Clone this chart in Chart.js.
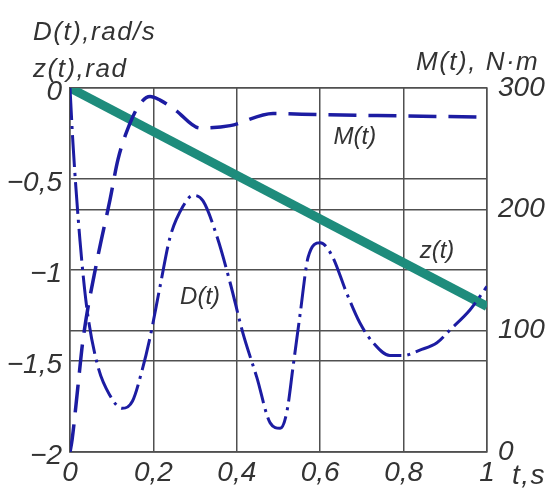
<!DOCTYPE html>
<html>
<head>
<meta charset="utf-8">
<script src="https://cdn.jsdelivr.net/npm/chart.js@4.4.1/dist/chart.umd.min.js"></script>
<style>
  html, body { margin: 0; padding: 0; background: #fff; }
</style>
</head>
<body>
<canvas id="myChart" width="555" height="493"></canvas>
<script>
// D(t), rad/s  (left axis)
const tD = [0, 0.007, 0.024, 0.041, 0.067, 0.096, 0.125, 0.150, 0.173, 0.192, 0.216, 0.240, 0.271, 0.295, 0.319,
  0.353, 0.384, 0.415, 0.448, 0.480, 0.504, 0.520, 0.535, 0.552, 0.571, 0.600, 0.628, 0.664, 0.695, 0.727,
  0.767, 0.799, 0.839, 0.880, 0.911, 0.959, 1.0];
const dVals = [0, -0.30, -0.84, -1.22, -1.53, -1.69, -1.76, -1.72, -1.55, -1.37, -1.09, -0.82, -0.65, -0.59, -0.62,
  -0.82, -1.07, -1.35, -1.59, -1.84, -1.87, -1.78, -1.53, -1.24, -0.93, -0.85, -0.92, -1.13, -1.29, -1.40,
  -1.47, -1.47, -1.44, -1.40, -1.33, -1.22, -1.09];

// M(t), N·m  (right axis)
const tM = [0, 0.005, 0.019, 0.031, 0.065, 0.096, 0.115, 0.144, 0.168, 0.192, 0.216, 0.252, 0.312, 0.384, 0.487, 0.6, 0.8, 1.0];
const mVals = [0, 10, 54, 92, 158, 208, 241, 271, 287, 293, 290, 282, 267, 269, 279, 278, 277, 276];

// z(t), rad  (left axis)
const tZ = [0, 1];
const zVals = [0, -1.2];

const tTicks = [0, 0.2, 0.4, 0.6, 0.8, 1];
const leftTicks = [0, -0.5, -1, -1.5, -2];
const rightTicks = [0, 100, 200, 300];

const BLUE = "#1c1ca2";
const TEAL = "#1e8c7c";
const GRID = "#505050";
const TXT = "#333";
const FONT = '"Liberation Sans", Arial, sans-serif';

const fmt = (v) => {
  const r = Math.round(v * 10) / 10;
  return String(r).replace(".", ",").replace("-", "\u2212");
};
const pts = (xs, ys) => xs.map((x, i) => ({ x: x, y: ys[i] }));

const textPlugin = {
  id: "texts",
  afterDraw(chart) {
    const c = chart.ctx;
    const { x, y, y2 } = chart.scales;
    c.save();
    c.fillStyle = TXT;
    c.letterSpacing = "1.5px";
    c.textBaseline = "alphabetic";
    c.textAlign = "left";
    c.font = "italic 26px " + FONT;
    c.fillText("D(t),rad/s", 33, 40);
    c.fillText("z(t),rad", 33, 77);
    c.fillText("M(t), N\u00b7m", 416, 70);
    c.font = "italic 28px " + FONT;
    c.fillText("t,s", 512, 484);
    // curve labels
    c.letterSpacing = "0px";
    c.font = "italic 24px " + FONT;
    c.textAlign = "center";
    c.textBaseline = "middle";
    c.fillText("M(t)", x.getPixelForValue(0.683), y2.getPixelForValue(259));
    c.fillText("D(t)", x.getPixelForValue(0.312), y.getPixelForValue(-1.148));
    c.fillText("z(t)", x.getPixelForValue(0.88), y.getPixelForValue(-0.90));
    c.restore();
  },
};

const ctx = document.getElementById("myChart").getContext("2d");

new Chart(ctx, {
  type: "line",
  data: {
    datasets: [
      {
        label: "D(t)",
        data: pts(tD, dVals),
        yAxisID: "y",
        borderColor: BLUE,
        borderWidth: 3,
        borderDash: [32, 6, 3, 6],
        pointRadius: 0,
        cubicInterpolationMode: "monotone",
        fill: false,
      },
      {
        label: "M(t)",
        data: pts(tM, mVals),
        yAxisID: "y2",
        borderColor: BLUE,
        borderWidth: 3.5,
        borderDash: [28, 12],
        pointRadius: 0,
        cubicInterpolationMode: "monotone",
        fill: false,
      },
      {
        label: "z(t)",
        data: pts(tZ, zVals),
        yAxisID: "y",
        borderColor: TEAL,
        borderWidth: 9,
        pointRadius: 0,
        fill: false,
      },
    ],
  },
  options: {
    responsive: false,
    animation: false,
    layout: { padding: { top: 88, left: 0, right: 0, bottom: 0 } },
    plugins: {
      legend: { display: false },
      tooltip: { enabled: false },
    },
    scales: {
      x: {
        type: "linear",
        min: 0,
        max: 1,
        afterBuildTicks: (s) => { s.ticks = tTicks.map((v) => ({ value: v })); },
        afterFit: (s) => { s.height = 41; },
        grid: { color: GRID, lineWidth: 1.5, drawTicks: false },
        border: { color: GRID, width: 1.5 },
        ticks: {
          padding: 4,
          color: TXT,
          font: { family: FONT, size: 28, style: "italic" },
          callback: (v) => fmt(v),
        },
      },
      y: {
        position: "left",
        min: -2,
        max: 0,
        afterBuildTicks: (s) => { s.ticks = leftTicks.map((v) => ({ value: v })); },
        afterFit: (s) => { s.width = 70; },
        grid: { color: GRID, lineWidth: 1.5, drawTicks: false },
        border: { color: GRID, width: 1.5 },
        ticks: {
          padding: 8,
          labelOffset: 4,
          color: TXT,
          font: { family: FONT, size: 28, style: "italic" },
          callback: (v) => fmt(v),
        },
      },
      y2: {
        position: "right",
        min: 0,
        max: 300,
        afterBuildTicks: (s) => { s.ticks = rightTicks.map((v) => ({ value: v })); },
        afterFit: (s) => { s.width = 68; },
        grid: { color: GRID, lineWidth: 1.5, drawTicks: false },
        border: { color: GRID, width: 1.5 },
        ticks: {
          padding: 11,
          color: TXT,
          font: { family: FONT, size: 28, style: "italic" },
          callback: (v) => String(v),
        },
      },
    },
  },
  plugins: [textPlugin],
});
</script>
</body>
</html>
